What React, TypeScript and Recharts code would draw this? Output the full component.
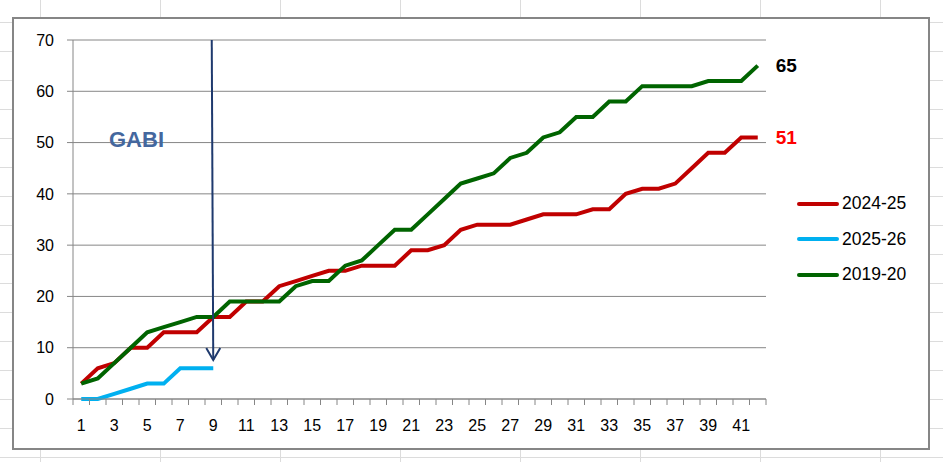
import React from "react";
import { LineChart, Line, XAxis, YAxis, CartesianGrid, ReferenceLine, LabelList } from "recharts";

const weeks = Array.from({ length: 42 }, (_, i) => i + 1);

const season2425 = [3, 6, 7, 10, 10, 13, 13, 13, 16, 16, 19, 19, 22, 23, 24, 25, 25, 26, 26, 26, 29, 29, 30, 33, 34, 34, 34, 35, 36, 36, 36, 37, 37, 40, 41, 41, 42, 45, 48, 48, 51, 51];
const season2526 = [0, 0, 1, 2, 3, 3, 6, 6, 6];
const season1920 = [3, 4, 7, 10, 13, 14, 15, 16, 16, 19, 19, 19, 19, 22, 23, 23, 26, 27, 30, 33, 33, 36, 39, 42, 43, 44, 47, 48, 51, 52, 55, 55, 58, 58, 61, 61, 61, 61, 62, 62, 62, 65];

const yTicks = [0, 10, 20, 30, 40, 50, 60, 70];
const arrowWeek = 9;
const arrowFrom = 70;
const arrowTo = 7.6;

const seriesInfo = [
  { key: "s2425", name: "2024-25", color: "#C00000" },
  { key: "s2526", name: "2025-26", color: "#00B0F0" },
  { key: "s1920", name: "2019-20", color: "#006400" },
];

const data = weeks.map((w, i) => ({
  week: w,
  s2425: season2425[i] ?? null,
  s2526: season2526[i] ?? null,
  s1920: season1920[i] ?? null,
}));

const FONT = "'Liberation Sans', Arial, sans-serif";
const GRAY = "#868686";
const PLOT_W = 693;
const HALF = PLOT_W / weeks.length / 2;

const XTick = (props: any) => {
  const { x, y, payload, index } = props;
  const last = index === weeks.length - 1;
  return (
    <g>
      <line x1={x - HALF} y1={y} x2={x - HALF} y2={y + 6} stroke={GRAY} />
      {last && <line x1={x + HALF} y1={y} x2={x + HALF} y2={y + 6} stroke={GRAY} />}
      {payload.value % 2 === 1 && (
        <text x={x} y={y + 26.5} dy="0.355em" textAnchor="middle" fontSize={16} fontFamily={FONT} fill="#000">
          {payload.value}
        </text>
      )}
    </g>
  );
};

const endLabel = (color: string) => (props: any) => {
  const { x, y, value, index } = props;
  if (index !== weeks.length - 1) return null;
  return (
    <text x={x + 18} y={y} dy="0.355em" fontSize={19} fontWeight="bold" fontFamily={FONT} fill={color}>
      {value}
    </text>
  );
};

const Arrow = (props: any) => {
  const { x1, y1, x2, y2 } = props;
  return (
    <g>
      <line x1={x1 - 1.5} y1={y1} x2={x2} y2={y2} stroke="#1F3A6E" strokeWidth={2} />
      <path d={`M ${x2 - 7} ${y2 - 12} L ${x2} ${y2} L ${x2 + 7} ${y2 - 12}`} stroke="#1F3A6E" strokeWidth={2} fill="none" />
    </g>
  );
};

export default function App() {
  return (
    <div
      style={{
        position: "absolute",
        left: 0,
        top: 0,
        width: 943,
        height: 462,
        overflow: "hidden",
        background: "#fff",
        backgroundImage:
          "linear-gradient(to right, #dcdcdc 1px, transparent 1px), linear-gradient(to bottom, #dcdcdc 1px, transparent 1px)",
        backgroundSize: "120px 100%, 100% 29px",
        backgroundPosition: "40px 0, 0 22px",
      }}
    >
      <div
        style={{
          position: "absolute",
          left: 12,
          top: 17,
          width: 918,
          height: 433,
          boxSizing: "border-box",
          border: `2px solid ${GRAY}`,
          background: "#fff",
        }}
      />
      <div style={{ position: "absolute", left: 0, top: 0 }}>
        <LineChart width={943} height={462} data={data} margin={{ top: 40, right: 177, bottom: 33, left: 0 }}>
          <CartesianGrid vertical={false} stroke={GRAY} />
          <XAxis
            dataKey="week"
            interval={0}
            tickLine={false}
            tickSize={0}
            tickMargin={0}
            height={30}
            padding={{ left: HALF, right: HALF }}
            axisLine={{ stroke: GRAY }}
            tick={<XTick />}
          />
          <YAxis
            domain={[0, 70]}
            ticks={yTicks}
            width={73}
            tickSize={6}
            tickMargin={13}
            axisLine={{ stroke: GRAY }}
            tickLine={{ stroke: GRAY }}
            tick={{ fontSize: 16, fontFamily: FONT, fill: "#000" }}
          />
          <Line type="linear" dataKey="s2425" name="2024-25" stroke="#C00000" strokeWidth={4} dot={false} isAnimationActive={false}>
            <LabelList dataKey="s2425" content={endLabel("#FF0000")} />
          </Line>
          <Line type="linear" dataKey="s2526" name="2025-26" stroke="#00B0F0" strokeWidth={4} dot={false} isAnimationActive={false} />
          <Line type="linear" dataKey="s1920" name="2019-20" stroke="#006400" strokeWidth={4} dot={false} isAnimationActive={false}>
            <LabelList dataKey="s1920" content={endLabel("#000")} />
          </Line>
          <ReferenceLine
            segment={[
              { x: arrowWeek, y: arrowFrom },
              { x: arrowWeek, y: arrowTo },
            ]}
            shape={<Arrow />}
          />
        </LineChart>
      </div>
      <div
        style={{
          position: "absolute",
          left: 109,
          top: 127,
          fontFamily: FONT,
          fontWeight: "bold",
          fontSize: 22,
          color: "#44679E",
        }}
      >
        GABI
      </div>
      <div style={{ position: "absolute", left: 797, top: 186 }}>
        {seriesInfo.map((s) => (
          <div key={s.key} style={{ display: "flex", alignItems: "center", height: 35.5 }}>
            <div style={{ width: 42, height: 4, borderRadius: 2, background: s.color, marginRight: 3 }} />
            <span style={{ fontFamily: FONT, fontSize: 17.5, color: "#000" }}>{s.name}</span>
          </div>
        ))}
      </div>
    </div>
  );
}
